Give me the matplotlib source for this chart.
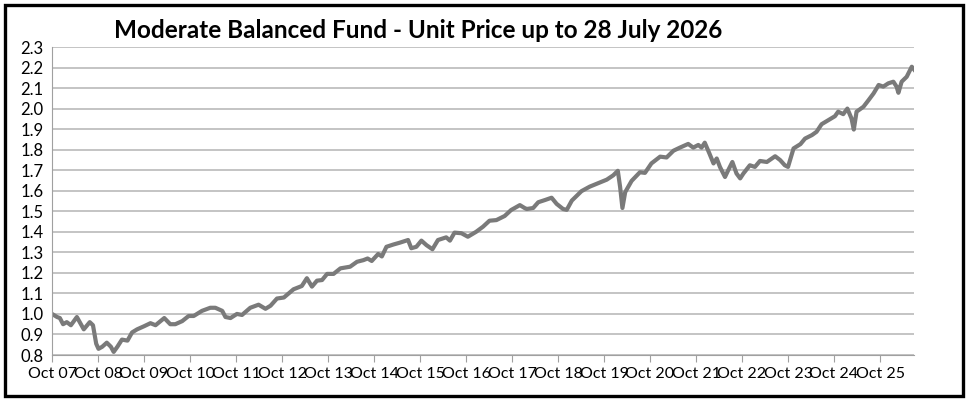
import matplotlib.pyplot as plt
from matplotlib.patches import Rectangle

# years since Oct 2007, unit price
years = [0.00, 0.11, 0.17, 0.24, 0.32, 0.41, 0.54, 0.69, 0.82, 0.89, 0.96, 1.01,
         1.09, 1.19, 1.28, 1.34, 1.42, 1.52, 1.64, 1.74, 1.85, 2.00, 2.14, 2.25,
         2.44, 2.57, 2.68, 2.83, 2.97, 3.08, 3.26, 3.44, 3.55, 3.70, 3.77, 3.88,
         4.02, 4.13, 4.31, 4.49, 4.64, 4.75, 4.89, 5.04, 5.25, 5.43, 5.54, 5.65,
         5.76, 5.87, 5.98, 6.12, 6.27, 6.48, 6.63, 6.77, 6.86, 6.95, 7.09, 7.17,
         7.27, 7.42, 7.56, 7.74, 7.81, 7.92, 8.03, 8.14, 8.27, 8.39, 8.57, 8.65,
         8.75, 8.90, 9.04, 9.22, 9.37, 9.51, 9.66, 9.84, 9.98, 10.17, 10.28, 10.32,
         10.46, 10.57, 10.72, 10.86, 10.97, 11.11, 11.19, 11.30, 11.51, 11.69, 11.84,
         12.06, 12.20, 12.30, 12.35, 12.40, 12.46, 12.60, 12.78, 12.89, 13.03, 13.22,
         13.36, 13.51, 13.65, 13.83, 13.94, 14.05, 14.12, 14.19, 14.29, 14.38, 14.45,
         14.52, 14.63, 14.70, 14.79, 14.88, 14.96, 15.03, 15.17, 15.28, 15.39, 15.54,
         15.72, 15.83, 15.93, 16.00, 16.12, 16.27, 16.37, 16.52, 16.62, 16.73, 16.88,
         17.02, 17.09, 17.20, 17.29, 17.38, 17.43, 17.49, 17.64, 17.75, 17.86, 17.97,
         18.07, 18.18, 18.29, 18.36, 18.40, 18.47, 18.58, 18.69, 18.76]
price = [1.000, 0.985, 0.980, 0.950, 0.960, 0.945, 0.985, 0.925, 0.960, 0.945, 0.855, 0.830,
         0.840, 0.860, 0.840, 0.815, 0.840, 0.875, 0.870, 0.910, 0.925, 0.940, 0.955, 0.945,
         0.980, 0.950, 0.950, 0.965, 0.990, 0.990, 1.015, 1.030, 1.030, 1.015, 0.985, 0.980,
         1.000, 0.995, 1.030, 1.045, 1.025, 1.040, 1.075, 1.080, 1.120, 1.136, 1.174, 1.133,
         1.162, 1.165, 1.195, 1.195, 1.222, 1.230, 1.254, 1.262, 1.270, 1.258, 1.292, 1.280,
         1.327, 1.338, 1.347, 1.360, 1.320, 1.327, 1.357, 1.335, 1.315, 1.360, 1.373, 1.357,
         1.396, 1.393, 1.376, 1.400, 1.425, 1.454, 1.457, 1.477, 1.506, 1.530, 1.515, 1.511,
         1.516, 1.544, 1.555, 1.566, 1.536, 1.511, 1.507, 1.552, 1.598, 1.620, 1.634,
         1.654, 1.675, 1.697, 1.618, 1.516, 1.593, 1.648, 1.690, 1.687, 1.733, 1.766,
         1.762, 1.795, 1.810, 1.828, 1.810, 1.823, 1.810, 1.834, 1.782, 1.733, 1.757,
         1.716, 1.667, 1.700, 1.740, 1.684, 1.660, 1.684, 1.724, 1.716, 1.745, 1.740,
         1.768, 1.749, 1.724, 1.716, 1.806, 1.827, 1.854, 1.871, 1.887, 1.924, 1.944,
         1.963, 1.985, 1.973, 2.000, 1.952, 1.898, 1.985, 2.009, 2.041, 2.074, 2.115,
         2.107, 2.123, 2.131, 2.107, 2.077, 2.131, 2.155, 2.204, 2.185]

tick_labels = ["Oct %02d" % y for y in range(7, 26)]
yticks = [0.8 + 0.1 * i for i in range(16)]

plt.rcParams['font.family'] = ['Lato', 'DejaVu Sans']

fig = plt.figure(figsize=(9.69, 4.0), dpi=100)
ax = fig.add_axes([0.0537, 0.1125, 0.8896, 0.77])

ax.plot(years, price, color='#7a7a7a', linewidth=3.0, solid_joinstyle='round')

ax.set_xlim(0, 18.74)
ax.set_ylim(0.8, 2.3)
ax.set_yticks(yticks)
ax.set_yticklabels(["%.1f" % v for v in yticks])
ax.set_xticks(range(len(tick_labels)))
ax.set_xticklabels(tick_labels)
ax.tick_params(axis='y', length=0, labelsize=12, pad=6)
ax.tick_params(axis='x', length=5, color='#a0a0a0', labelsize=11.5, pad=4)

ax.grid(axis='y', color='#bfbfbf', linewidth=1.3)
ax.set_axisbelow(True)
for side in ['top', 'right']:
    ax.spines[side].set_visible(False)
ax.spines['left'].set_color('#a0a0a0')
ax.spines['bottom'].set_color('#a0a0a0')

fig.text(0.432, 0.925, "Moderate Balanced Fund - Unit Price up to 28 July 2026",
         ha='center', va='center', fontsize=17.5, fontweight='bold')

fig.patches.append(Rectangle((0.005, 0.01), 0.989, 0.978, transform=fig.transFigure,
                             fill=False, edgecolor='black', linewidth=2.4))

fig.savefig('out.png', dpi=100)
